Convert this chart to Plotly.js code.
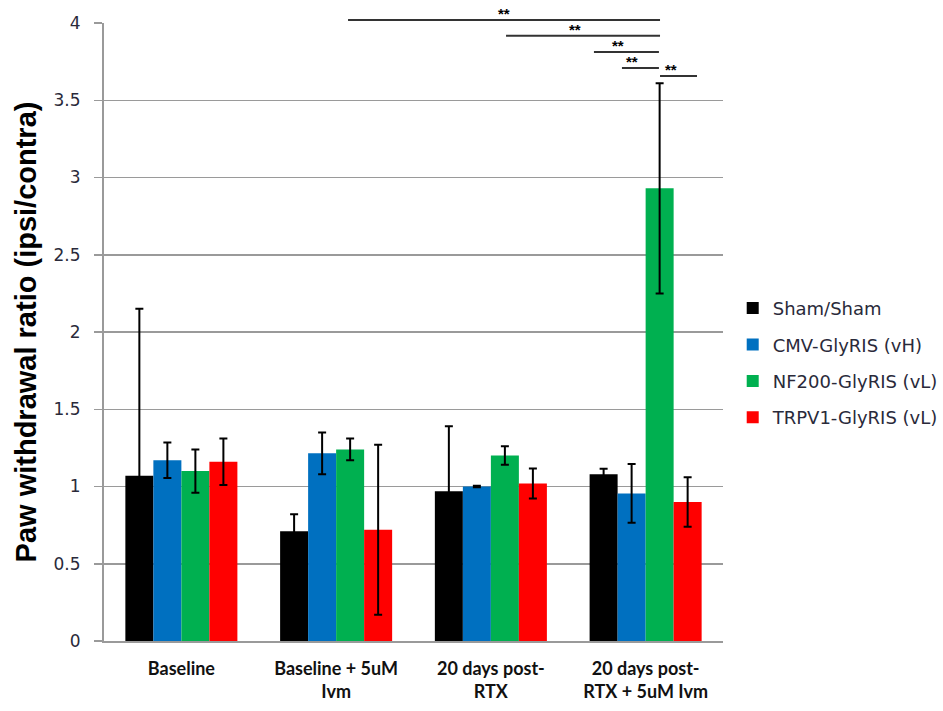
<!DOCTYPE html>
<html>
<head>
<meta charset="utf-8">
<script src="https://cdn.plot.ly/plotly-3.0.1.min.js"></script>
<style>html,body{margin:0;padding:0;background:#fff;}#chart{width:943px;height:711px;}</style>
</head>
<body>
<div id="chart"></div>
<script>
// ---- data ----
const categories = ["Baseline", "Baseline + 5uM<br>Ivm", "20 days post-<br>RTX", "20 days post-<br>RTX + 5uM Ivm"];
const seriesNames = ["Sham/Sham", "CMV-GlyRIS (vH)", "NF200-GlyRIS (vL)", "TRPV1-GlyRIS (vL)"];
const shamVals = [1.07, 0.71, 0.97, 1.08];
const shamErr  = [1.08, 0.11, 0.42, 0.035];
const cmvVals  = [1.17, 1.215, 1.0, 0.955];
const cmvErr   = [0.115, 0.135, 0.005, 0.19];
const nfVals   = [1.10, 1.24, 1.20, 2.93];
const nfErr    = [0.14, 0.07, 0.06, 0.68];
const trpvVals = [1.16, 0.72, 1.02, 0.90];
const trpvErr  = [0.15, 0.55, 0.097, 0.16];
const seriesColors = ["#000000", "#0070C0", "#00B050", "#FF0000"];

// significance brackets (x in category units, y in data units)
const sigX0 = [1.077, 2.098, 2.666, 2.847, 3.093];
const sigX1 = [3.093, 3.093, 3.086, 3.086, 3.332];
const sigY  = [4.019, 3.918, 3.812, 3.709, 3.657];
const sigLabel = ["**", "**", "**", "**", "**"];

const yTicks = [0, 0.5, 1, 1.5, 2, 2.5, 3, 3.5, 4];
const yRange = [0, 4];
const xRange = [-0.5, 3.5];

// ---- build ----
const vals = [shamVals, cmvVals, nfVals, trpvVals];
const errs = [shamErr, cmvErr, nfErr, trpvErr];
const traces = vals.map((v, i) => ({
  type: "bar",
  name: seriesNames[i],
  x: categories,
  y: v,
  legendgroup: "g" + i,
  marker: {color: seriesColors[i], line: {width: 0}},
  error_y: {type: "data", array: errs[i], visible: true, color: "#000000", thickness: 2, width: 4},
  hoverinfo: "skip"
}));

const px = x => (x - xRange[0]) / (xRange[1] - xRange[0]);
const py = y => (y - yRange[0]) / (yRange[1] - yRange[0]);

const shapes = sigX0.map((x0, i) => ({
  type: "line", xref: "paper", yref: "paper",
  x0: px(x0), x1: px(sigX1[i]), y0: py(sigY[i]), y1: py(sigY[i]),
  line: {color: "#333333", width: 2}
}));
const annotations = sigX0.map((x0, i) => ({
  xref: "paper", yref: "paper",
  x: px((x0 + sigX1[i]) / 2), y: py(sigY[i]),
  yanchor: "bottom", showarrow: false, text: sigLabel[i],
  font: {family: "Liberation Sans, Arial, sans-serif", size: 15, color: "#000", weight: "bold"},
  yshift: -4
}));

const layout = {
  width: 943, height: 711,
  margin: {l: 104, r: 220, t: 23, b: 70},
  paper_bgcolor: "#fff", plot_bgcolor: "#fff",
  barmode: "group", bargap: 0.276, bargroupgap: 0,
  showlegend: true,
  legend: {
    xref: "container", x: 0.777, xanchor: "left", y: 0.45, yanchor: "middle",
    traceorder: "grouped", tracegroupgap: 10,
    font: {family: "DejaVu Sans, Verdana, sans-serif", size: 18, color: "#2a2a3a"},
    itemwidth: 30
  },
  xaxis: {
    type: "category", range: xRange,
    showgrid: false, showline: true, linecolor: "#9a9a9a", linewidth: 2,
    ticks: "", ticklabelstandoff: 10,
    tickfont: {family: "Lato, Liberation Sans, Arial, sans-serif", size: 18, color: "#111", weight: "bold"}
  },
  yaxis: {
    range: yRange, tickvals: yTicks, ticktext: yTicks.map(String),
    showgrid: true, gridcolor: "#9a9a9a", gridwidth: 1.5,
    showline: true, linecolor: "#9a9a9a", linewidth: 2,
    ticks: "outside", ticklen: 8, tickcolor: "#9a9a9a", tickwidth: 1.5,
    ticklabelstandoff: 10,
    zeroline: false,
    tickfont: {family: "DejaVu Sans, Verdana, sans-serif", size: 17, color: "#2a2a3a"},
    title: {text: "Paw withdrawal ratio (ipsi/contra)", standoff: 8,
      font: {family: "Liberation Sans, Arial, sans-serif", size: 29, color: "#000", weight: "bold"}}
  },
  shapes: shapes,
  annotations: annotations
};

Plotly.newPlot("chart", traces, layout, {displayModeBar: false, staticPlot: true});
</script>
</body>
</html>
